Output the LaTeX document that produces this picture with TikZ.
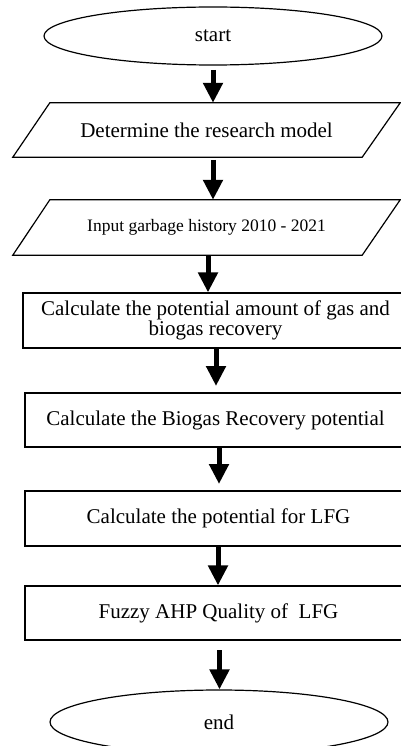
\documentclass[tikz,border=0pt]{standalone}
\usepackage{fontspec}
\setmainfont{Liberation Serif}
\usetikzlibrary{shapes.geometric,arrows.meta}
\begin{document}
\begin{tikzpicture}[x=1pt,y=-1pt,
  shapeline/.style={draw=black,line width=1.2pt},
  mainfont/.style={font=\fontsize{21}{20.5}\selectfont},
  oval/.style={ellipse,shapeline,inner sep=0pt,mainfont},
  box/.style={rectangle,shapeline,inner sep=0pt,align=center,mainfont},
  pbox/.style={rectangle,inner sep=0pt,minimum width=387pt},
  arr/.style={line width=5pt,-{Triangle[width=19pt,length=20pt]}}]
\clip (0,0) rectangle (401,746);

\node[oval,minimum width=338pt,minimum height=58pt] (start) at (213,36) {start};

\node[pbox,minimum height=54pt,mainfont] (p1) at (206.5,130) {Determine the research model};
\draw[shapeline] ([xshift=37pt]p1.north west) -- (p1.north east) -- ([xshift=-38pt]p1.south east) -- (p1.south west) -- cycle;

\node[pbox,minimum height=55pt,font=\fontsize{17.5}{20}\selectfont] (p2) at (206.5,227.5) {Input garbage history 2010 - 2021};
\draw[shapeline] ([xshift=37pt]p2.north west) -- (p2.north east) -- ([xshift=-38pt]p2.south east) -- (p2.south west) -- cycle;

\node[box,minimum width=385pt,minimum height=55pt] (r1) at (215.5,320.5) {Calculate the potential amount of gas and\\biogas recovery};
\node[box,minimum width=381pt,minimum height=54pt] (r2) at (215.5,420) {Calculate the Biogas Recovery potential};
\node[box,minimum width=387pt,minimum height=55pt] (r3) at (218.5,518.5) {Calculate the potential for LFG};
\node[box,minimum width=387pt,minimum height=54pt] (r4) at (218.5,613) {Fuzzy AHP Quality of\ \ LFG};

\node[oval,minimum width=338pt,minimum height=64pt] (end) at (219,722) {end};

\coordinate (a1s) at (213,70);
\coordinate (a2s) at (213,160);
\coordinate (a3s) at (208,255);
\coordinate (a4s) at (216,348);
\coordinate (a4e) at (216,386);
\coordinate (a5s) at (219,447);
\coordinate (a5e) at (219,484);
\coordinate (a6s) at (218,546);
\coordinate (a7s) at (219.5,650);

\draw[arr] (a1s) -- (a1s |- p1.north);
\draw[arr] (a2s) -- (a2s |- p2.north);
\draw[arr] (a3s |- p2.south) -- (a3s |- r1.north);
\draw[arr] (a4s |- r1.south) -- (a4e);
\draw[arr] (a5s |- r2.south) -- (a5e);
\draw[arr] (a6s |- r3.south) -- (a6s |- r4.north);
\draw[arr] (a7s) -- (a7s |- end.north);
\end{tikzpicture}
\end{document}
